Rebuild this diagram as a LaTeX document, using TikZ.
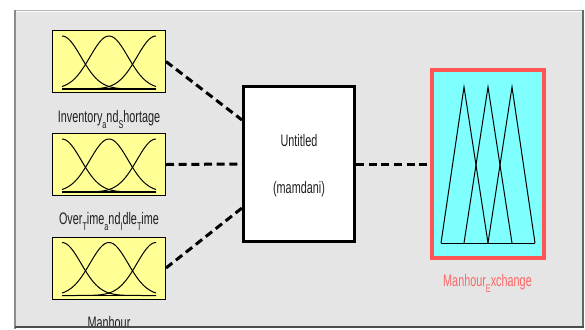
\documentclass[tikz,border=0pt]{standalone}
\usepackage{fontspec}
\newfontfamily\guifont[FakeStretch=0.65]{Liberation Sans}
\usetikzlibrary{positioning}

\definecolor{panelgray}{RGB}{229,229,229}
\definecolor{mfyellow}{RGB}{255,255,150}
\definecolor{mfcyan}{RGB}{128,255,255}
\definecolor{outred}{RGB}{255,85,85}

\newcommand{\sbs}[1]{\raisebox{-4.5pt}{\fontsize{8.4}{9}\selectfont #1}}

\tikzset{every picture/.style={line width=0.75pt}}
\tikzset{
  inbox/.style={draw=black, fill=mfyellow, minimum width=84.75pt, minimum height=46.5pt, inner sep=0pt},
  fisbox/.style={draw=black, line width=2.25pt, fill=white, minimum width=83.25pt, minimum height=116.25pt, inner sep=0pt},
  outbox/.style={draw=outred, line width=3pt, fill=mfcyan, minimum width=84pt, minimum height=141pt, inner sep=0pt},
  link/.style={line width=2.25pt, dash pattern=on 6pt off 3.5pt},
  varlabel/.style={font=\guifont\fontsize{12.5}{14}\selectfont, text=black!88, inner sep=0pt, anchor=base},
}

\begin{document}
\begin{tikzpicture}[x=0.75pt,y=0.75pt,yscale=-1,xscale=1]
\useasboundingbox (0,0) rectangle (585,329);

%Panel
\fill[panelgray] (15,10) rectangle (583,326);
\draw[black!30] (15,10) -- (583,10);
\draw[white] (16,11.5) -- (582,11.5);
\draw[black!45, line width=1.5pt] (15,10) -- (15,329);
\draw[black!60, line width=1.5pt] (583,10) -- (583,327);

\begin{scope}
\clip (15,10) rectangle (583,325.5);

%Input boxes
\node[inbox] (inv) at (109,61.5) {};
\node[inbox] (ovt) at (109,164.5) {};
\node[inbox] (man) at (109,268) {};

%Membership curves
\foreach \n in {inv,ovt,man} {
  \begin{scope}[shift={(\n.south west)}]
    \foreach \c in {0,47,94}
      \draw[domain=0:94, samples=60, smooth] plot ({\x+10}, {-4-53*exp(-((\x-\c)/19)^2/2)});
    \draw[line width=1pt] (10,-4) -- (104,-4);
  \end{scope}
}

%System box
\node[fisbox] (fis) at (299,164) {};

%Output box
\node[outbox] (out) at (488,164) {};
\begin{scope}[shift={(out.center)}]
  \draw (-47,79) -- (-24,-77) -- (0,79);
  \draw (-24,79) -- (0,-77) -- (24,79);
  \draw (0,79) -- (24,-77) -- (47,79);
  \draw (-47,79) -- (47,79);
\end{scope}

%Links
\draw[link] (inv.east) -- ([yshift=-33pt]fis.west);
\draw[link] (ovt.east) -- (fis.west);
\draw[link] (man.east) -- ([yshift=33pt]fis.west);
\draw[link] (fis.east) -- (out.west);

% Text Node
\node[varlabel] (invlab) at (109,122) {Inventory\sbs{a}nd\sbs{S}hortage};
% Text Node
\node[varlabel] (ovtlab) at (109,224) {Over\sbs{T}ime\sbs{a}nd\sbs{I}dle\sbs{T}ime};
% Text Node
\node[varlabel] (manlab) at (109,328) {Manhour};
% Text Node
\node[varlabel] (fisname) at (299,146) {Untitled};
% Text Node
\node[varlabel] (fistype) at (299,193) {(mamdani)};
% Text Node
\node[varlabel, text=outred!90] (outlab) at (487.5,286) {Manhour\sbs{E}xchange};
\end{scope}

\draw[black!70, line width=1.5pt] (15,326.5) -- (584,326.5);

\end{tikzpicture}
\end{document}
